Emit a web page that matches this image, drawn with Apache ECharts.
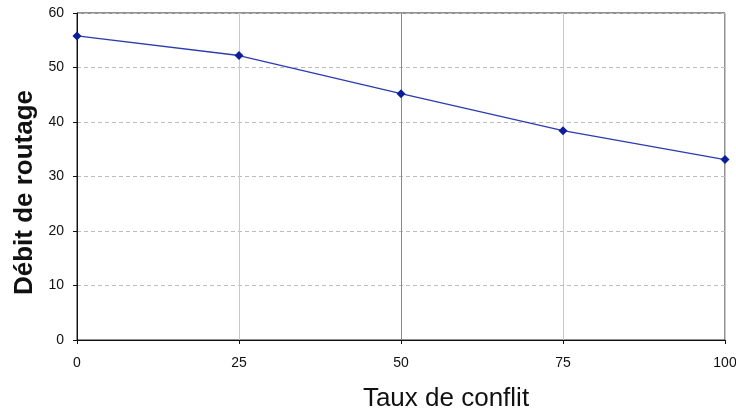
<!DOCTYPE html>
<html><head><meta charset="utf-8">
<script src="https://cdn.jsdelivr.net/npm/echarts@6/dist/echarts.min.js"></script>
<style>html,body{margin:0;padding:0;background:#fff}#c{width:736px;height:410px}</style>
</head><body><div id="c"></div>
<script>
const xValues = [0, 25, 50, 75, 100];
const debit = [55.8, 52.2, 45.2, 38.4, 33.1];
const xTitle = 'Taux de conflit';
const yTitle = 'Débit de routage';

const chart = echarts.init(document.getElementById('c'));
chart.setOption({
  animation: false,
  grid: {left: 77, right: 11, top: 13, bottom: 70, show: true, borderColor: '#222', borderWidth: 1, backgroundColor: 'transparent', outerBoundsMode: 'none', containLabel: false},
  xAxis: {
    type: 'value', min: 0, max: 100, interval: 25,
    name: xTitle, nameLocation: 'middle', nameGap: 46,
    nameTextStyle: {fontFamily: 'Liberation Sans, Arial', fontSize: 26, color: '#111', padding: [0, 0, 0, 90]},
    axisLine: {show: true, lineStyle: {color: '#111', width: 1}},
    axisTick: {show: true, length: 4, inside: false, lineStyle: {color: '#111'}},
    axisLabel: {fontFamily: 'Liberation Sans, Arial', fontSize: 14, color: '#111', margin: 16},
    splitLine: {show: true, lineStyle: {color: ['#c8c8c8','#c8c8c8','#8a8a8a','#c8c8c8','#c8c8c8'], width: 1, type: 'solid'}}
  },
  yAxis: {
    type: 'value', min: 0, max: 60, interval: 10,
    name: yTitle, nameLocation: 'middle', nameGap: 37,
    nameTextStyle: {fontFamily: 'Liberation Sans, Arial', fontSize: 26, fontWeight: 'bold', color: '#111', padding: [0, 32, 0, 0]},
    axisLine: {show: true, lineStyle: {color: '#111', width: 1}},
    axisTick: {show: true, length: 4, lineStyle: {color: '#111'}},
    axisLabel: {fontFamily: 'Liberation Sans, Arial', fontSize: 14, color: '#111', margin: 13},
    splitLine: {show: true, lineStyle: {color: '#bdbdbd', width: 1, type: [4, 3]}}
  },
  series: [{
    type: 'line',
    data: xValues.map((x, i) => [x, debit[i]]),
    symbol: 'diamond', symbolSize: 9,
    lineStyle: {color: '#2b3bb0', width: 1.3},
    itemStyle: {color: '#0c1f99'},
    clip: false
  }]
});
</script></body></html>
